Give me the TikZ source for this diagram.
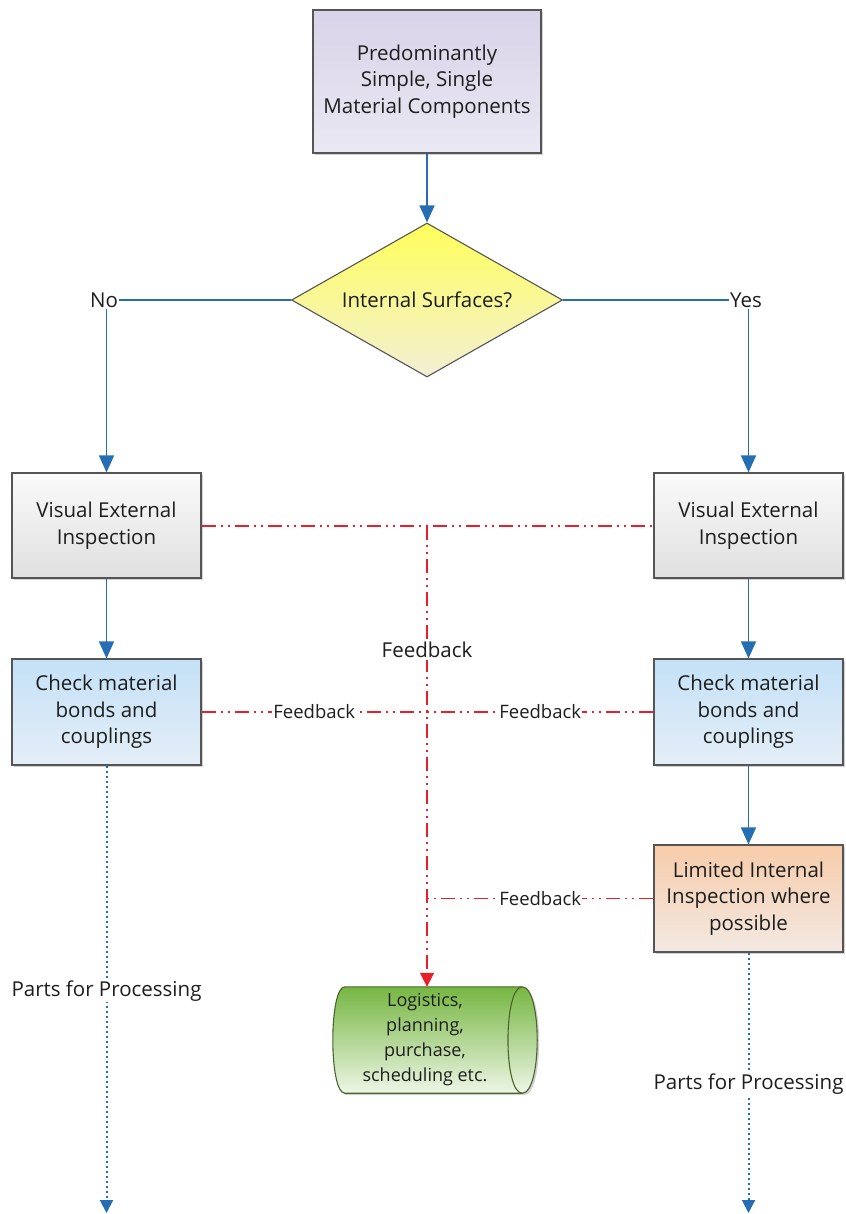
\documentclass[tikz,border=0pt]{standalone}
\usepackage{fontspec}
\setmainfont{Open Sans}
\usetikzlibrary{arrows.meta,shapes.geometric,shadows}

\definecolor{flowblue}{RGB}{38,110,180}
\definecolor{fbred}{RGB}{232,32,42}
\definecolor{edgegray}{RGB}{85,85,85}
\definecolor{txt}{RGB}{30,30,30}

\begin{document}
\begin{tikzpicture}[x=1pt,y=-1pt,
  every node/.style={text=txt},
  boxbase/.style={rectangle, draw=edgegray, line width=1.1pt, inner sep=0pt,
    align=center, font=\fontsize{20.5}{26.5}\selectfont,
    drop shadow={shadow xshift=2pt, shadow yshift=-2pt, opacity=0.3, fill=black!60}},
  stepbox/.style={boxbase, minimum width=189pt, minimum height=105pt},
  srcfill/.style={top color={rgb,255:red,216;green,211;blue,232}, bottom color={rgb,255:red,234;green,232;blue,243}},
  visfill/.style={top color={rgb,255:red,250;green,250;blue,250}, bottom color={rgb,255:red,224;green,224;blue,224}},
  chkfill/.style={top color={rgb,255:red,196;green,225;blue,247}, bottom color={rgb,255:red,228;green,238;blue,247}},
  limfill/.style={top color={rgb,255:red,247;green,204;blue,170}, bottom color={rgb,255:red,243;green,233;blue,226}},
  flowline/.style={draw=flowblue, line width=1.5pt},
  flow/.style={flowline, -{Triangle[width=15pt,length=17pt]}},
  parts/.style={draw=flowblue, line width=2pt, dash pattern=on 2pt off 3pt,
    -{Triangle[width=13pt,length=13pt]}},
  fb/.style={draw=fbred, line width=1.8pt, dash pattern=on 14pt off 5pt on 2pt off 5pt on 2pt off 5pt},
  fbtip/.style={-{Triangle[width=14pt,length=14pt]}},
  lab/.style={inner sep=1pt, font=\fontsize{20.5}{24}\selectfont},
  fblab/.style={fill=white, inner sep=1pt, font=\fontsize{18.5}{22}\selectfont},
  fblabbig/.style={fill=white, inner sep=2pt, font=\fontsize{20.5}{24}\selectfont},
  partslab/.style={fill=white, inner sep=1pt, font=\fontsize{20.5}{24}\selectfont},
]
\useasboundingbox (0,0) rectangle (845,1214);

% ---- source and decision ----
\node[boxbase, srcfill, minimum width=228pt, minimum height=143pt] (src) at (427,81.5)
  {Predominantly\\Simple, Single\\Material Components};
\node[diamond, draw=edgegray, line width=1.1pt, aspect=1.76, inner sep=0pt,
  minimum width=271pt, minimum height=154pt,
  top color={rgb,255:red,255;green,255;blue,90}, bottom color={rgb,255:red,243;green,239;blue,214},
  font=\fontsize{20.5}{24}\selectfont] (dia) at (427,300) {Internal Surfaces?};
\node[lab] (no) at (104,300) {No};
\node[lab] (yes) at (746,300) {Yes};

% ---- process steps ----
\node[stepbox, visfill] (visL) at (106.5,525.5) {Visual External\\Inspection};
\node[stepbox, visfill] (visR) at (748.5,525.5) {Visual External\\Inspection};
\node[stepbox, chkfill, minimum height=106pt] (chkL) at (106.5,712) {Check material\\bonds and\\couplings};
\node[stepbox, chkfill, minimum height=106pt] (chkR) at (748.5,712) {Check material\\bonds and\\couplings};
\node[stepbox, limfill, minimum height=107pt] (lim) at (748.5,898.5) {Limited Internal\\Inspection where\\possible};

% ---- data store (horizontal cylinder) ----
\node[rectangle, minimum width=177pt, minimum height=106pt, inner sep=0pt] (store) at (433.5,1040) {};
\path[draw={rgb,255:red,74;green,100;blue,46}, line width=1.1pt,
  top color={rgb,255:red,118;green,182;blue,66}, bottom color={rgb,255:red,238;green,246;blue,230},
  drop shadow={shadow xshift=2pt, shadow yshift=-2pt, opacity=0.3, fill=black!60}]
  (store.north west) -- (store.north east)
  .. controls +(20,0) and +(20,0) .. (store.south east)
  -- (store.south west)
  .. controls +(-16,0) and +(-16,0) .. (store.north west) -- cycle;
\draw[draw={rgb,255:red,74;green,100;blue,46}, line width=1.1pt]
  (store.north east) .. controls +(-19,0) and +(-19,0) .. (store.south east);
\node[align=center, inner sep=0pt, font=\fontsize{18}{25}\selectfont] (storetext) at (425,1040)
  {Logistics,\\planning,\\purchase,\\scheduling etc.};

% ---- main flow ----
\draw[flow] (src.south) -- (dia.north);
\draw[flowline] (dia.west) -- (no.east);
\draw[flowline] (dia.east) -- (yes.west);
\draw[flow] (no.south -| visL.north) -- (visL.north);
\draw[flow] (yes.south -| visR.north) -- (visR.north);
\draw[flow] (visL.south) -- (chkL.north);
\draw[flow] (visR.south) -- (chkR.north);
\draw[flow] (chkR.south) -- (lim.north);

% ---- feedback ----
\coordinate (j1) at (427,526);
\draw[fb] (visL.east |- j1) -- (visR.west |- j1);
\draw[fb, fbtip] (j1) -- node[fblabbig, pos=0.269] {Feedback} (j1 |- store.north);
\draw[fb] (chkL.east) -- node[fblab] {Feedback} (chkL.east -| j1);
\draw[fb] (chkR.west) -- node[fblab] {Feedback} (chkR.west -| j1);
\draw[fb] (lim.west) -- node[fblab] {Feedback} (lim.west -| j1);

% ---- outputs ----
\coordinate (endL) at (106.5,1213);
\coordinate (endR) at (748.5,1213);
\draw[parts] (chkL.south) -- node[partslab, pos=0.504] {Parts for Processing} (endL);
\draw[parts] (lim.south) -- node[partslab, pos=0.506] {Parts for Processing} (endR);
\end{tikzpicture}
\end{document}
